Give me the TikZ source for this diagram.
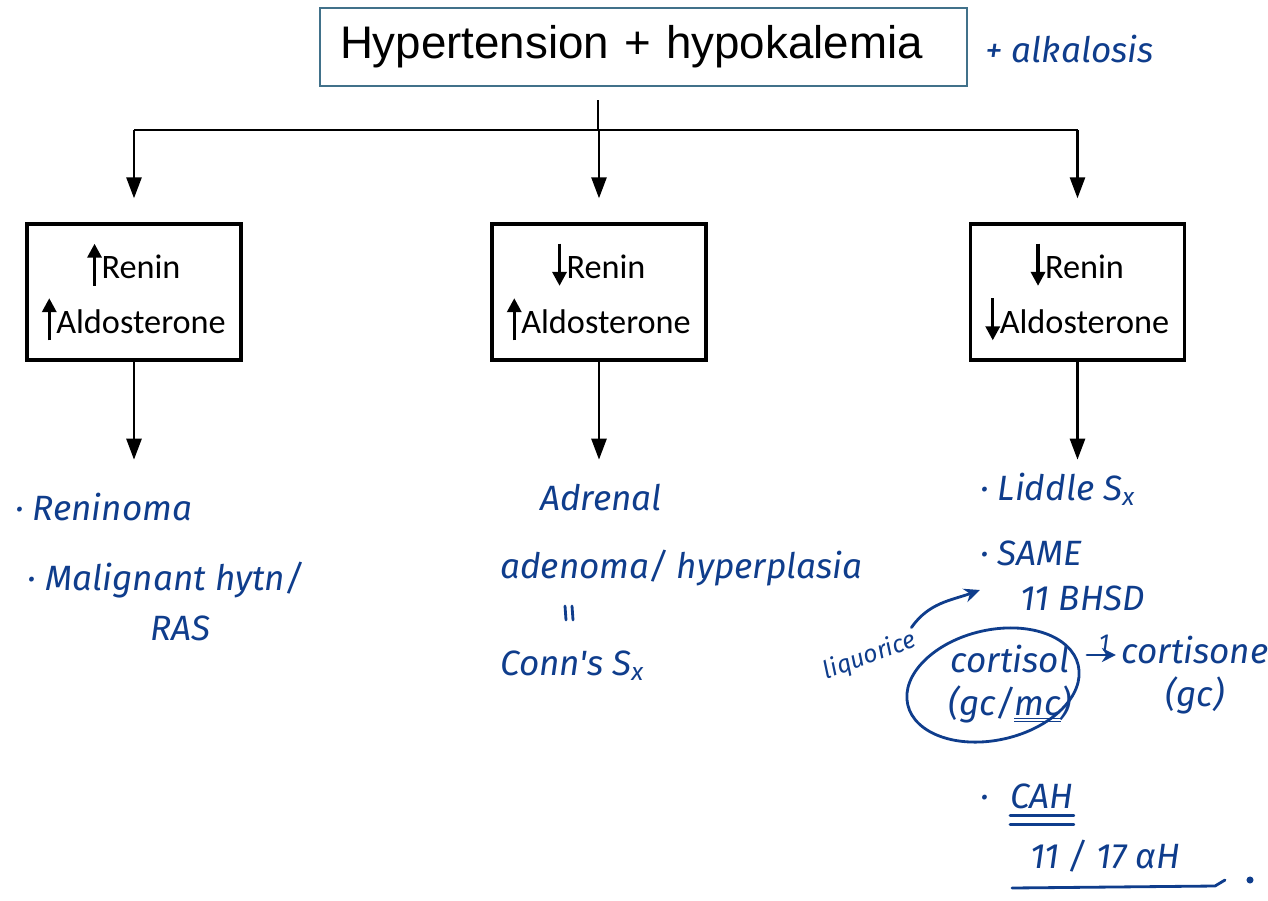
\documentclass[tikz,border=0pt]{standalone}
\usepackage{fontspec}
\setmainfont{Liberation Sans}
\newfontfamily\boxfont{Carlito}
\newfontfamily\handfont{Fira Sans}
\usetikzlibrary{arrows.meta,shapes.geometric}

\definecolor{ink}{HTML}{0F3D8C}
\definecolor{frame}{HTML}{41718A}

% small arrows in front of Renin / Aldosterone
\newcommand{\upmark}{\tikz[baseline=0pt]\draw[line width=1.9pt,-{Triangle[length=8pt,width=8pt]}] (0,-4pt) -- (0,20pt);}
\newcommand{\downmark}{\tikz[baseline=0pt]\draw[line width=1.9pt,-{Triangle[length=8pt,width=8pt]}] (0,20pt) -- (0,-4pt);}

\tikzset{
  topbox/.style={draw=frame, line width=0.9pt, minimum width=12.94cm, minimum height=1.56cm,
    text width=12.14cm, align=left, inner xsep=0.4cm, font=\fontsize{26}{30}\selectfont},
  levelbox/.style={draw, line width=1.9pt, minimum width=4.28cm, minimum height=2.72cm,
    align=center, font=\boxfont\fontsize{19.5}{31}\selectfont},
  flow/.style={line width=1.5pt, -{Triangle[length=0.42cm,width=0.3cm]}},
  hand/.style={text=ink, font=\handfont\itshape\fontsize{20}{24}\selectfont, inner sep=0pt},
  smallhand/.style={hand, font=\handfont\itshape\fontsize{14}{16}\selectfont},
  handline/.style={draw=ink, line width=1.6pt, line cap=round},
}

\begin{document}
\begin{tikzpicture}
    \useasboundingbox (0,0) rectangle (25.36,-18);
    \def\boxy{-5.84}
    \def\drop{1.96}

    % presenting findings
    \node[topbox] (top) at (12.87,-0.94) {Hypertension + hypokalemia};
    \node[hand, anchor=base west] (alk) at (19.7,-1.24) {+ alkalosis};

    % renin / aldosterone patterns
    \node[levelbox] (high) at (2.68,\boxy) {\upmark Renin\\\upmark Aldosterone};
    \node[levelbox] (conn) at (11.98,\boxy) {\downmark Renin\\\upmark Aldosterone};
    \node[levelbox] (low) at (21.55,\boxy) {\downmark Renin\\\downmark Aldosterone};

    % branching from the top box
    \coordinate (stem) at (11.96,-2.0);
    \coordinate (split) at (11.96,-2.6);
    \draw[line width=1.5pt] (stem) -- (split);
    \draw[line width=1.5pt] (split -| high.north) -- (split -| low.north);
    \foreach \b in {high,conn,low}
        \draw[flow, shorten >=0.48cm] (split -| \b.north) -- (\b.north);

    % arrows down to the causes
    \foreach \b in {high,conn,low} {
        \coordinate (\b-end) at ([yshift=-\drop cm]\b.south);
        \draw[flow] (\b.south) -- (\b-end);
    }

    % causes with high renin
    \node[hand, anchor=base west] (reninoma) at (0.3,-10.4) {· Reninoma};
    \node[hand, anchor=base west] (malig) at (0.55,-11.8) {· Malignant hytn/};
    \node[hand, anchor=base west] (ras) at (3.0,-12.8) {RAS};

    % causes with low renin, high aldosterone
    \node[hand, anchor=base west] (adrenal) at (10.8,-10.2) {Adrenal};
    \node[hand, anchor=base west] (adenoma) at (10.0,-11.56) {adenoma/ hyperplasia};
    \draw[handline] (11.3,-12.12) -- (11.32,-12.4);
    \draw[handline] (11.44,-12.12) -- (11.46,-12.4);
    \node[hand, anchor=base west] (conns) at (10.0,-13.5) {Conn's S\textsubscript{x}};

    % causes with low renin, low aldosterone
    \node[hand, anchor=base west] (liddle) at (19.6,-10.0) {· Liddle S\textsubscript{x}};
    \node[hand, anchor=base west] (same) at (19.6,-11.3) {· SAME};
    \node[hand, anchor=base west] (hsd) at (20.4,-12.2) {11 BHSD};
    \node[smallhand, rotate=20] (liq) at (17.4,-13.12) {liquorice};
    \coordinate (sametip) at (19.6,-11.8);
    \draw[handline, -{Stealth[length=9pt,width=8pt]}] (liq.north east) to[out=55,in=200] (sametip);

    % cortisol ring and conversion
    \node[handline, ellipse, minimum width=3.5cm, minimum height=2.2cm, rotate=13] (ring) at (19.86,-13.7) {};
    \node[hand, align=center] (cortisol) at (20.2,-13.68) {cortisol\\(gc/\underline{\underline{mc}})};
    \node[hand, align=center] (csone) at (23.9,-13.5) {cortisone\\(gc)};
    \coordinate (ringout) at (21.74,-13.1);
    \draw[handline, -{Stealth[length=8pt,width=8pt]}, shorten >=3pt] (ringout) -- (ringout -| csone.west)
        node[midway, above, smallhand, yshift=1pt] {1};

    % CAH
    \node[hand, anchor=base west] (cahdot) at (19.6,-16.16) {·};
    \node[hand, anchor=base west] (cah) at (20.2,-16.16) {CAH};
    \draw[handline] ([yshift=-4pt]cah.south west) -- ([yshift=-4pt]cah.south east);
    \draw[handline] ([yshift=-9pt]cah.south west) -- ([yshift=-9pt]cah.south east);
    \node[hand, anchor=base west] (ahm) at (20.6,-17.36) {11 / 17 αH};
    \draw[handline] (20.24,-17.76) -- (24.3,-17.72) -- (24.5,-17.6);
    \fill[ink] (25.0,-17.6) circle (2pt);
\end{tikzpicture}
\end{document}
